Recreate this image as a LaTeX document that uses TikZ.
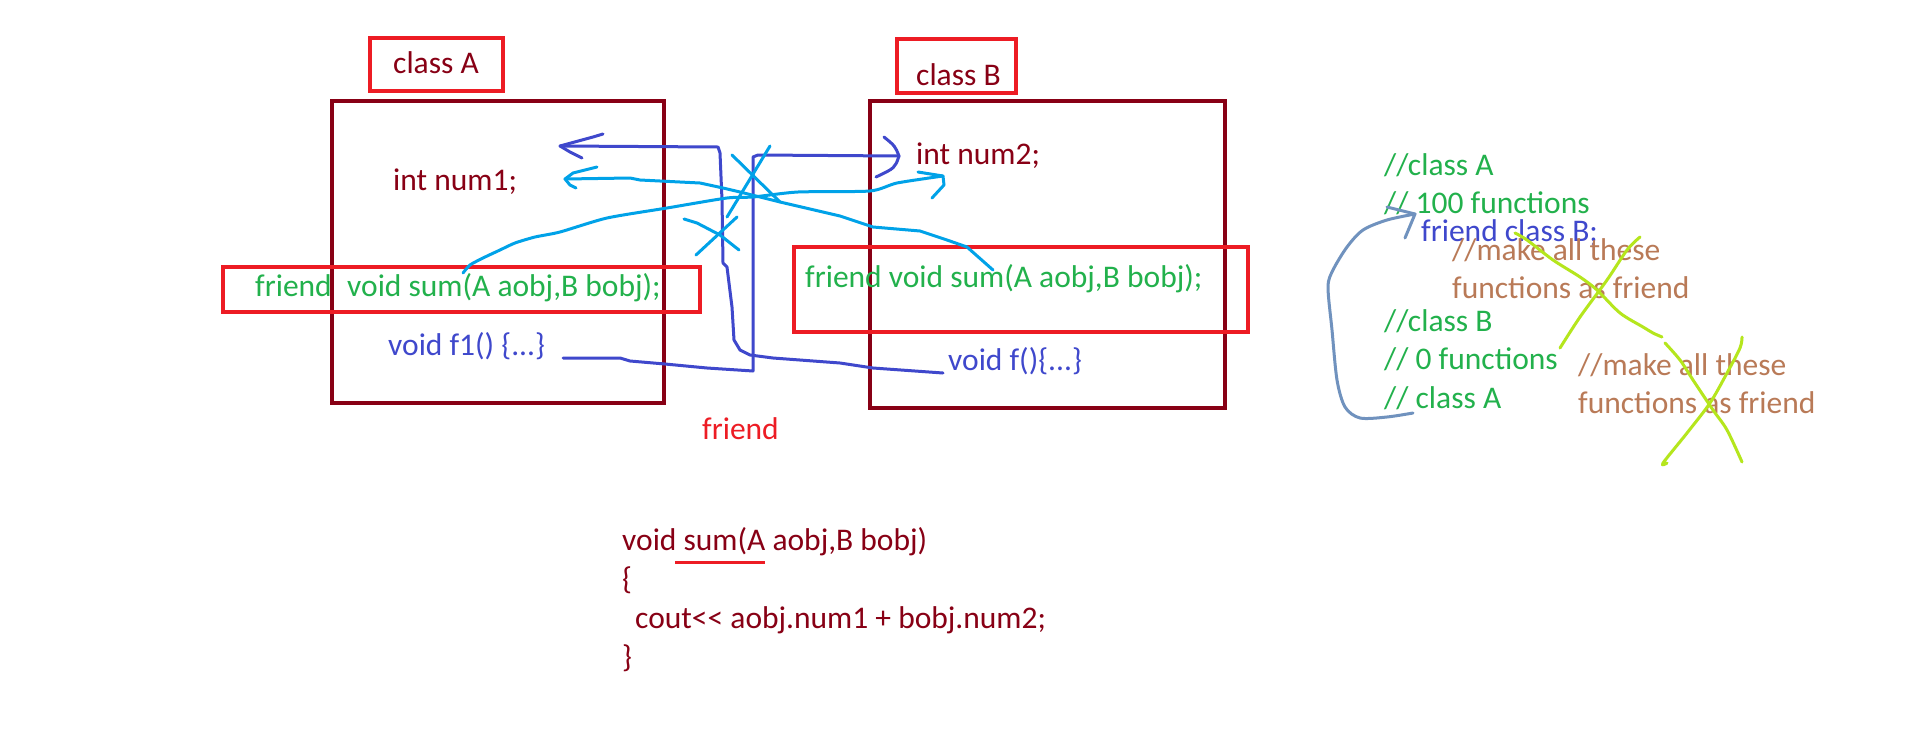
\documentclass[tikz,border=0pt]{standalone}
\usepackage{fontspec}
\setmainfont{Carlito}
\definecolor{dred}{HTML}{880015}
\definecolor{pred}{HTML}{ED1C24}
\definecolor{pgreen}{HTML}{22B14C}
\definecolor{pblue}{HTML}{3F48CC}
\definecolor{lblue}{HTML}{00A2E8}
\definecolor{pbrown}{HTML}{B97A57}
\definecolor{plime}{HTML}{B5E61D}
\definecolor{bgray}{HTML}{7092BE}
\begin{document}
\begin{tikzpicture}[x=1pt,y=-1pt,
  txt/.style={anchor=base west, inner sep=0pt, font=\fontsize{31.5}{38}\selectfont},
  classbox/.style={draw=dred, line width=4.5pt},
  redbox/.style={draw=pred, line width=4pt},
  pen/.style={line width=3pt, line cap=round, line join=round},
  bluepen/.style={pen, draw=pblue},
  cyanpen/.style={pen, draw=lblue},
  limepen/.style={pen, draw=plime},
  graypen/.style={pen, draw=bgray}]
\fill[white] (0,0) rectangle (1914,734);
\useasboundingbox (0,0) rectangle (1914,734);

% class boxes and red frames
\draw[classbox] (332,101) rectangle (664,403);
\draw[classbox] (870,101) rectangle (1225,408);
\draw[redbox] (370,38) rectangle (503,91);
\draw[redbox] (897,39) rectangle (1016,93);
\draw[redbox] (223,267) rectangle (700,312);
\draw[redbox] (794,247) rectangle (1248,332);

% texts of class A
\node[txt, text=dred] (lblA) at (393,73) {class A};
\node[txt, text=dred] (num1) at (393,190) {int num1;};
\node[txt, text=pgreen] (frA) at (255,296) {friend};
\node[txt, text=pgreen] (sumA) at (347,296) {void sum(A aobj,B bobj);};
\node[txt, text=pblue] (f1) at (388,355) {void f1() \{...\}};
% texts of class B
\node[txt, text=dred] (lblB) at (916,85) {class B};
\node[txt, text=dred] (num2) at (916,164) {int num2;};
\node[txt, text=pgreen] (sumB) at (805,287) {friend void sum(A aobj,B bobj);};
\node[txt, text=pblue] (fB) at (948,370) {void f()\{...\}};
\node[txt, text=pred] (frlbl) at (702,439) {friend};

% right notes
\node[txt, text=pgreen] (c1) at (1384,175) {//class A};
\node[txt, text=pgreen] (c2) at (1384,213) {// 100 functions};
\node[txt, text=pblue] (c3) at (1421,241) {friend class B;};
\node[txt, text=pbrown] (c4) at (1452,260) {//make all these};
\node[txt, text=pbrown] (c5) at (1452,298) {functions as friend};
\node[txt, text=pgreen] (c6) at (1384,331) {//class B};
\node[txt, text=pgreen] (c7) at (1384,369) {// 0 functions};
\node[txt, text=pgreen] (c8) at (1384,408) {// class A};
\node[txt, text=pbrown] (c9) at (1578,375) {//make all these};
\node[txt, text=pbrown] (c10) at (1578,413) {functions as friend};

% bottom code
\node[txt, text=dred] (b1) at (622,550) {void sum(A aobj,B bobj)};
\node[txt, text=dred] (b2) at (622,589) {\{};
\node[txt, text=dred] (b3) at (635,628) {cout<{}< aobj.num1 + bobj.num2;};
\node[txt, text=dred] (b4) at (622,667) {\}};
\coordinate (ul1) at (675,562);
\coordinate (ul2) at (765,562);
\draw[pred, line width=3pt] (ul1) -- (ul2);

% blue: f() -> num1
\coordinate (fBend) at (943,373);
\coordinate (num1tip) at (560,146);
\draw[bluepen] (fBend) -- (873,368) -- (840,363) -- (773,358) -- (750,355) -- (740,350) -- (734,340) -- (732,307) -- (727,267) -- (723,263) -- (722,200) -- (720,153) -- (718,147) -- (num1tip);
\draw[bluepen] (603,134) -- (593,137) -- (num1tip) -- (570,152) -- (582,158);

% blue: f1() -> num2
\coordinate (f1end) at (563,358);
\coordinate (num2tip) at (899,156);
\draw[bluepen] (f1end) -- (620,358) -- (630,361) -- (665,364) -- (707,368) -- (753,371) -- (753,157) -- (758,155) -- (num2tip);
\draw[bluepen] (884,137) .. controls (895,146) .. (num2tip) .. controls (895,168) .. (876,177);

% light blue: sum in B -> num1
\coordinate (sumBpt) at (993,270);
\coordinate (num1tipb) at (565,179);
\draw[cyanpen] (sumBpt) -- (967,247) -- (947,240) -- (920,231) -- (873,227) -- (840,216) -- (780,202) -- (740,192) -- (723,188) -- (700,183) -- (640,180) -- (630,178) -- (num1tipb);
\draw[cyanpen] (597,167) -- (573,173) -- (num1tipb) -- (570,185) -- (576,188);

% light blue: sum in A -> num2
\coordinate (sumApt) at (463,273);
\coordinate (num2tipb) at (943,176);
\draw[cyanpen] plot[smooth, tension=0.4] coordinates {(sumApt) (470,265) (483,258) (500,250) (515,243) (535,237) (560,232) (607,218) (667,208) (727,198) (753,197) (798,192) (870,191) (897,183) (num2tipb)};
\draw[cyanpen] (918,172) -- (num2tipb) -- (944,185) -- (932,198);

% light blue crosses
\draw[cyanpen] (732,155) -- (780,202);
\draw[cyanpen] (770,146) -- (727,217);
\draw[cyanpen] (684,219) -- (697,223) -- (720,235) -- (739,250);
\draw[cyanpen] (737,217) -- (696,255);

% lime crosses
\draw[limepen] plot[smooth, tension=0.5] coordinates {(1515,233) (1527,240) (1553,260) (1580,277) (1597,290) (1620,313) (1643,327) (1653,333) (1662,337)};
\draw[limepen] plot[smooth, tension=0.5] coordinates {(1640,237) (1627,250) (1607,280) (1580,317) (1560,348)};
\draw[limepen] plot[smooth, tension=0.5] coordinates {(1665,343) (1680,360) (1693,380) (1713,410) (1727,430) (1742,462)};
\draw[limepen] plot[smooth, tension=0.5] coordinates {(1742,337) (1740,348) (1727,373) (1710,403) (1687,433) (1663,463) (1667,463)};

% blue-gray loop arrow
\coordinate (loopstart) at (1413,413);
\coordinate (looptip) at (1415,214);
\draw[graypen] plot[smooth, tension=0.5] coordinates {(loopstart) (1387,417) (1360,418) (1345,407) (1337,380) (1332,330) (1328,287) (1333,270) (1347,247) (1363,230) (1387,220) (looptip)};
\draw[graypen] (1387,207) -- (looptip) -- (1405,238);
\end{tikzpicture}
\end{document}
